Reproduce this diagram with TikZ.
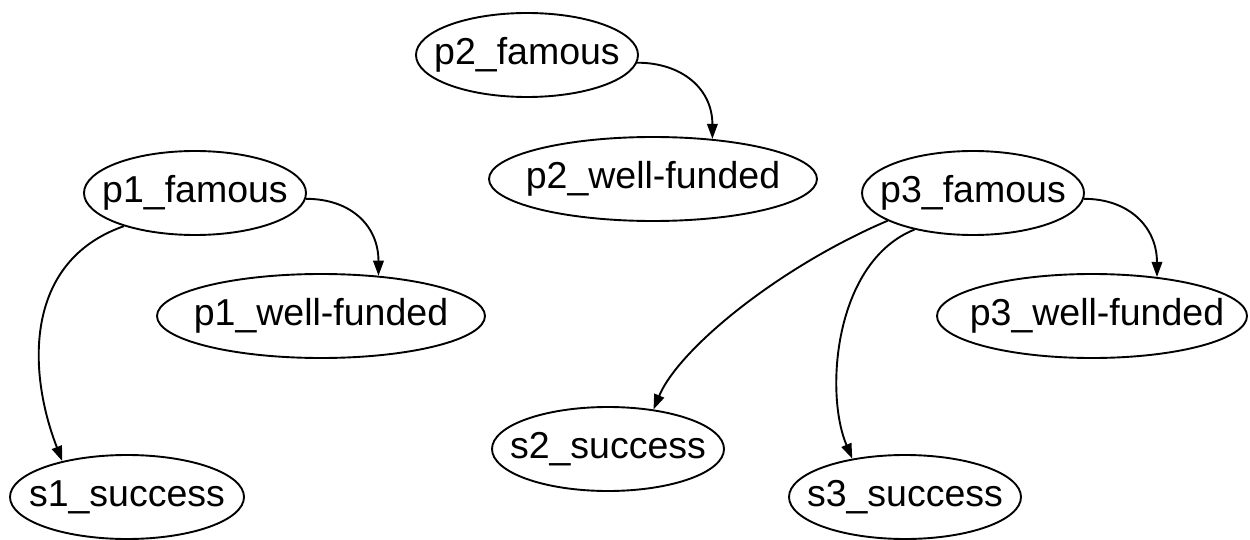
\documentclass[tikz,border=0pt]{standalone}
\usepackage{fontspec}
\setmainfont{Liberation Sans}
\usetikzlibrary{shapes.geometric,arrows.meta}
\begin{document}
\begin{tikzpicture}[x=1pt,y=-1pt,
  ell/.style={draw, ellipse, line width=1.9pt, inner sep=0pt, minimum height=84pt},
  lab/.style={font=\fontsize{37.5}{44}\selectfont, inner sep=0pt, text height=27pt, text depth=8pt},
  edge/.style={line width=1.9pt, -{Triangle[length=15pt,width=10.5pt]}}]
\useasboundingbox (0,0) rectangle (1250,540);
\node[ell, minimum width=222pt] (p2f) at (527,55) {};
\node[lab] (p2fl) at (p2f) {p2\_famous};
\node[ell, minimum width=328pt] (p2wf) at (653,179) {};
\node[lab] (p2wfl) at (p2wf) {p2\_well-funded};
\node[ell, minimum width=222pt] (p1f) at (195,193) {};
\node[lab] (p1fl) at (p1f) {p1\_famous};
\node[ell, minimum width=328pt] (p1wf) at (321,316) {};
\node[lab] (p1wfl) at (p1wf) {p1\_well-funded};
\node[ell, minimum width=234pt] (s1) at (127,497) {};
\node[lab] (s1l) at (s1) {s1\_success};
\node[ell, minimum width=222pt] (p3f) at (973,193) {};
\node[lab] (p3fl) at (p3f) {p3\_famous};
\node[ell, minimum width=310pt] (p3wf) at (1092,316) {};
\node[lab] (p3wfl) at (1097,316) {p3\_well-funded};
\node[ell, minimum width=232pt] (s2) at (608,449) {};
\node[lab] (s2l) at (s2) {s2\_success};
\node[ell, minimum width=232pt] (s3) at (905,497) {};
\node[lab] (s3l) at (s3) {s3\_success};

\draw[edge] (p2f.-4) .. controls +(45,0) and +(0,-50) .. (p2wf.34);
\draw[edge] (p1f.-3) .. controls +(45,0) and +(0,-50) .. (p1wf.35);
\draw[edge] (p3f.-3) .. controls +(45,0) and +(0,-50) .. (p3wf.31);
\draw[edge] (p1f.205) .. controls +(-100,35) and +(-35,-90) .. (s1.151);
\draw[edge] (p3f.198) .. controls +(-110,47) and +(25,-60) .. (s2.41);
\draw[edge] (p3f.212) .. controls +(-80,32) and +(-28,-66) .. (s3.144);
\end{tikzpicture}
\end{document}
